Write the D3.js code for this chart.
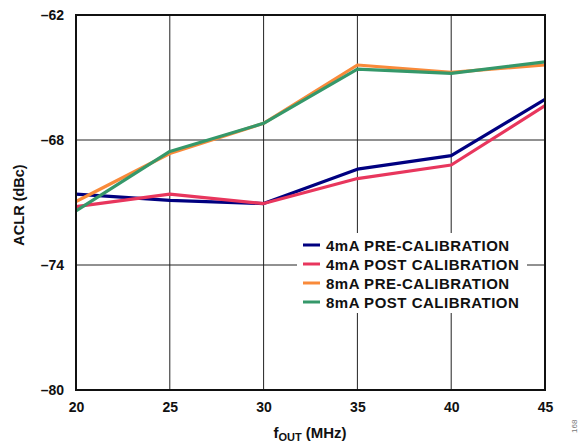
<!DOCTYPE html>
<html>
<head>
<meta charset="utf-8">
<script src="https://cdn.jsdelivr.net/npm/d3@7"></script>
<style>
  body { margin: 0; background: #fff; }
  text { font-family: "Liberation Sans", Arial, sans-serif; font-weight: bold; }
</style>
</head>
<body>
<div id="chart"></div>
<script>
// values
var freqs = [20, 25, 30, 35, 40, 45];
var pre4 = [-70.6, -70.9, -71.05, -69.4, -68.75, -66.05];
var post4 = [-71.2, -70.6, -71.05, -69.85, -69.2, -66.35];
var pre8 = [-70.95, -68.65, -67.2, -64.4, -64.75, -64.4];
var post8 = [-71.4, -68.55, -67.2, -64.6, -64.8, -64.25];
var seriesNames = ["4mA PRE-CALIBRATION", "4mA POST CALIBRATION", "8mA PRE-CALIBRATION", "8mA POST CALIBRATION"];
var seriesColors = ["#000080", "#e8365d", "#f98a3a", "#35986a"];
var yTicks = [-62, -68, -74, -80];

var width = 580, height = 444;
var margin = {left: 76, right: 35, top: 15, bottom: 54};

var svg = d3.select("#chart").append("svg")
    .attr("width", width)
    .attr("height", height);

var x = d3.scaleLinear().domain([20, 45]).range([margin.left, width - margin.right]);
var y = d3.scaleLinear().domain([-80, -62]).range([height - margin.bottom, margin.top]);

// grid
var grid = svg.append("g");
grid.selectAll(".vgrid")
    .data(freqs)
    .enter().append("line")
    .attr("x1", function(d) { return x(d); })
    .attr("x2", function(d) { return x(d); })
    .attr("y1", y(-62)).attr("y2", y(-80))
    .attr("stroke", "#222").attr("stroke-width", 1);
grid.selectAll(".hgrid")
    .data(yTicks)
    .enter().append("line")
    .attr("x1", x(20)).attr("x2", x(45))
    .attr("y1", function(d) { return y(d); })
    .attr("y2", function(d) { return y(d); })
    .attr("stroke", "#222").attr("stroke-width", 1);

// legend backdrop covers the grid
svg.append("rect")
    .attr("x", 297).attr("y", 233)
    .attr("width", 230).attr("height", 80)
    .attr("fill", "#fff");

// data lines
var allSeries = [pre4, post4, pre8, post8];
var line = d3.line()
    .x(function(d, i) { return x(freqs[i]); })
    .y(function(d) { return y(d); });

allSeries.forEach(function(s, i) {
    svg.append("path")
        .datum(s)
        .attr("d", line)
        .attr("fill", "none")
        .attr("stroke", seriesColors[i])
        .attr("stroke-width", 3.2)
        .attr("stroke-linejoin", "round");
});

// frame
svg.append("rect")
    .attr("x", x(20)).attr("y", y(-62))
    .attr("width", x(45) - x(20)).attr("height", y(-80) - y(-62))
    .attr("fill", "none").attr("stroke", "#111").attr("stroke-width", 2);

// axes labels
var xAxis = d3.axisBottom(x).tickValues(freqs).tickSize(0).tickPadding(12);
var gx = svg.append("g")
    .attr("transform", "translate(0," + y(-80) + ")")
    .call(xAxis);
gx.select(".domain").remove();
gx.selectAll("text").attr("font-size", 14).attr("fill", "#111")
    .style("font-family", "'Liberation Sans', Arial, sans-serif").style("font-weight", "bold");

var yAxis = d3.axisLeft(y).tickValues(yTicks).tickSize(0).tickPadding(12)
    .tickFormat(function(d) { return "\u2013" + Math.abs(d); });
var gy = svg.append("g")
    .attr("transform", "translate(" + x(20) + ",0)")
    .call(yAxis);
gy.select(".domain").remove();
gy.selectAll("text").attr("font-size", 14).attr("fill", "#111")
    .style("font-family", "'Liberation Sans', Arial, sans-serif").style("font-weight", "bold");

// axis titles
svg.append("text")
    .attr("transform", "translate(24,205) rotate(-90)")
    .attr("text-anchor", "middle")
    .attr("font-size", 14.5)
    .attr("fill", "#111")
    .text("ACLR (dBc)");

var xt = svg.append("text")
    .attr("x", 310).attr("y", 438)
    .attr("text-anchor", "middle")
    .attr("font-size", 15)
    .attr("fill", "#111");
xt.append("tspan").text("f");
xt.append("tspan").attr("font-size", 11).attr("dy", 3).text("OUT");
xt.append("tspan").attr("dy", -3).text(" (MHz)");

// legend
var legend = svg.selectAll(".legend")
    .data(seriesNames)
    .enter().append("g")
    .attr("class", "legend")
    .attr("transform", function(d, i) { return "translate(303," + (245 + 19 * i) + ")"; });

legend.append("line")
    .attr("x1", 0).attr("x2", 17)
    .attr("y1", 0).attr("y2", 0)
    .attr("stroke", function(d, i) { return seriesColors[i]; })
    .attr("stroke-width", 3);

legend.append("text")
    .attr("x", 23).attr("y", 5.5)
    .attr("font-size", 15)
    .attr("letter-spacing", 0.5)
    .attr("fill", "#111")
    .text(function(d) { return d; });

// figure number
svg.append("text")
    .attr("transform", "translate(577,433) rotate(-90)")
    .attr("font-size", 8)
    .style("font-weight", "normal")
    .attr("fill", "#777")
    .text("168");
</script>
</body>
</html>
